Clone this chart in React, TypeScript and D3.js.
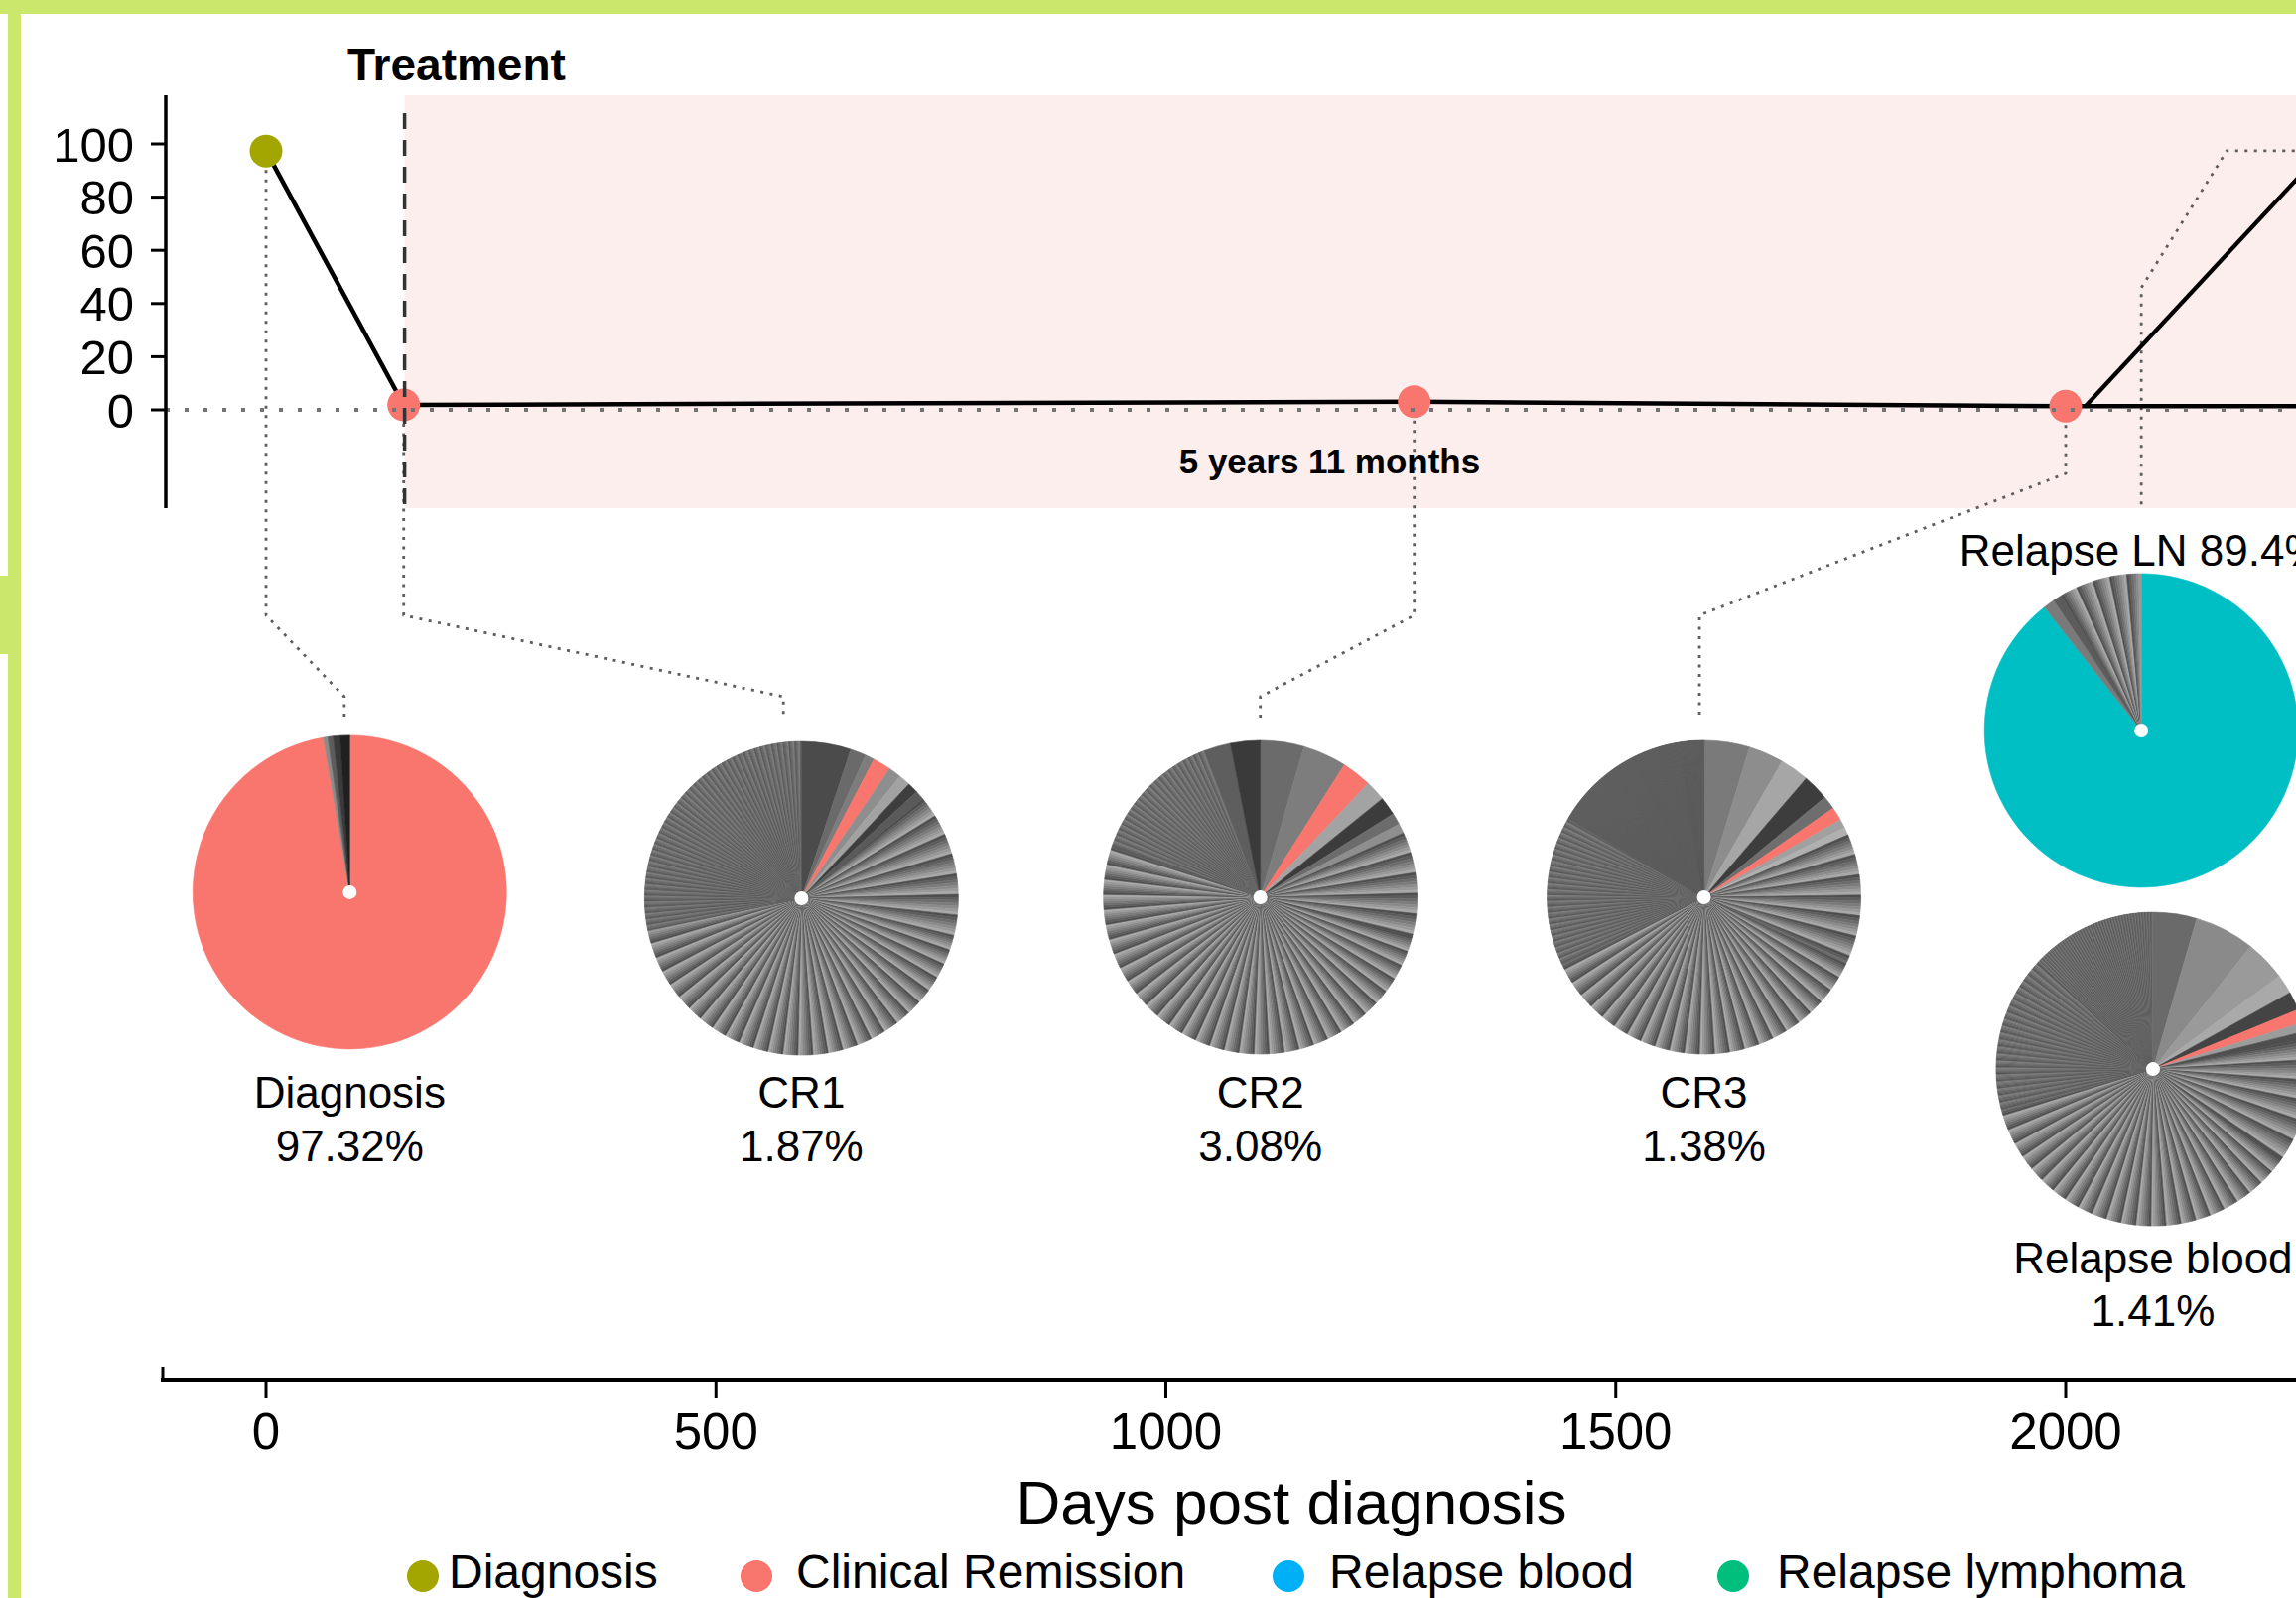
import React from "react";
import * as d3 from "d3";

const W = 2313;
const H = 1610;
const FONT = "'Liberation Sans', Arial, Helvetica, sans-serif";

// ---- Timeline samples (days post diagnosis, % of the tracked clone) ----
const sampleNames = ["Diagnosis", "CR1", "CR2", "CR3"];
const sampleDays = [0, 153, 1276, 2000];
const samplePct = [97.32, 1.87, 3.08, 1.38];
const sampleGroups = ["Diagnosis", "Clinical Remission", "Clinical Remission", "Clinical Remission"];

// Relapse: blood and lymph node sampled on the same day
const relapseDay = 2286;
const relapseOnsetDay = 2022;
const relapseOnsetPct = 1.4;
const relapseBloodPct = 1.41;
const relapseLNPct = 97.4;

// Treatment period
const treatmentStartDay = 154;
const treatmentEndDay = 2600;
const treatmentLabel = "5 years 11 months";

const yTicks = [0, 20, 40, 60, 80, 100];
const xTicks = [0, 500, 1000, 1500, 2000];

const legendLabels = ["Diagnosis", "Clinical Remission", "Relapse blood", "Relapse lymphoma"];
const legendColors = ["#a3a500", "#f8766d", "#00b0f6", "#00bf7d"];
const groupColor: Record<string, string> = {
  Diagnosis: "#a3a500",
  "Clinical Remission": "#f8766d",
};

// ---- Clonal composition of each sample: [number of clones, % per clone, colour key] ----
type Run = [number, number, string];
const diagnosisRuns: Run[] = [
  [1, 97.32, "clone"], [1, 0.45, "#8a8a8a"], [1, 0.55, "#5c5c5c"], [1, 0.7, "#3a3a3a"], [1, 0.98, "#202020"],
];
const cr1Runs: Run[] = [
  [1, 5.1, "#4b4b4b"], [1, 1.6, "#6a6a6a"], [1, 0.95, "#7d7d7d"], [1, 1.87, "clone"],
  [1, 1.3, "#8e8e8e"], [1, 1.2, "#a2a2a2"], [1, 1.1, "#3e3e3e"], [1, 0.98, "#5a5a5a"],
  [49, 0.3, "pleat"], [195, 0.22, "pleat"], [283, 0.1, "fine"],
];
const cr2Runs: Run[] = [
  [1, 4.5, "#6b6b6b"], [1, 4.5, "#7d7d7d"], [1, 3.08, "clone"], [1, 2.1, "#a3a3a3"],
  [1, 1.9, "#3c3c3c"], [1, 1.2, "#6c6c6c"], [1, 1.0, "#8e8e8e"],
  [36, 0.3, "pleat"], [233, 0.22, "pleat"], [138, 0.1, "fine"],
  [1, 2.8, "#5e5e5e"], [1, 3.06, "#3a3a3a"],
];
const cr3Runs: Run[] = [
  [1, 4.7, "#7a7a7a"], [1, 3.6, "#8d8d8d"], [1, 3.0, "#a6a6a6"], [1, 2.7, "#3d3d3d"],
  [1, 1.4, "#6e6e6e"], [1, 1.38, "clone"], [1, 0.9, "#a0a0a0"], [1, 0.8, "#b0b0b0"],
  [45, 0.3, "pleat"], [164, 0.22, "pleat"], [153, 0.1, "fine"], [416, 0.04, "flat"],
];
const relapseLNRuns: Run[] = [
  [1, 89.4, "clone"], [1, 1.2, "#7a7a7a"], [1, 0.9, "#5c5c5c"], [34, 0.25, "pleat"],
];
const relapseBloodRuns: Run[] = [
  [1, 4.5, "#6a6a6a"], [1, 6.2, "#8a8a8a"], [1, 4.2, "#9a9a9a"], [1, 2.0, "#a9a9a9"],
  [1, 1.9, "#444444"], [1, 1.41, "clone"], [1, 0.9, "#9c9c9c"], [1, 0.8, "#4e4e4e"],
  [43, 0.3, "pleat"], [164, 0.22, "pleat"], [133, 0.12, "fine"], [263, 0.05, "fine"],
];

const pieTitles = ["Diagnosis", "CR1", "CR2", "CR3", "Relapse LN", "Relapse blood"];
const pieClonePct = [97.32, 1.87, 3.08, 1.38, 89.4, 1.41];
const pieRuns = [diagnosisRuns, cr1Runs, cr2Runs, cr3Runs, relapseLNRuns, relapseBloodRuns];

// ---- Layout of the pies (x in days, y in the timeline's value units) ----
const pieLayout = [
  { day: 93, row: -181.3, clone: "#f8766d", labelMode: "below", nameY: 1116, pctY: 1170 },
  { day: 595, row: -183.6, clone: "#f8766d", labelMode: "below", nameY: 1116, pctY: 1170 },
  { day: 1105, row: -183.2, clone: "#f8766d", labelMode: "below", nameY: 1116, pctY: 1170 },
  { day: 1598, row: -183.2, clone: "#f8766d", labelMode: "below", nameY: 1116, pctY: 1170 },
  { day: 2084, row: -120.5, clone: "#00bfc4", labelMode: "above", nameY: 570, pctY: 570 },
  { day: 2097, row: -247.8, clone: "#f8766d", labelMode: "below", nameY: 1283, pctY: 1336 },
];

// Leader lines from the timeline points down to the pies
const connectors: [number, number][][] = [
  [[0, 97.32], [0, -77.2], [87, -107.8], [87, -115.7]],
  [[153, 1.87], [153, -77.2], [575, -107.8], [575, -115.7]],
  [[1276, 3.08], [1276, -77.2], [1105, -107.8], [1105, -115.7]],
  [[2000, 1.38], [2000, -23.9], [1593, -77.2], [1593, -115.7]],
  [[2286, 97.4], [2179, 97.4], [2084, 45.9], [2084, -37.7]],
];

const RAMPS: Record<string, string[]> = {
  pleat: ["#4e4e4e", "#5d5d5d", "#6c6c6c", "#7b7b7b", "#8a8a8a", "#999999", "#a8a8a8"],
  fine: ["#545454", "#5c5c5c", "#646464", "#6c6c6c", "#747474", "#7c7c7c"],
  flat: ["#5a5a5a", "#5e5e5e", "#626262"],
};

const GREEN = "#cce86c";
const PINK = "#fdeeee";
const R = 158;

type Slice = { pct: number; fill: string };

function expandRuns(runs: Run[], cloneColor: string): Slice[] {
  const out: Slice[] = [];
  runs.forEach(([n, pct, key]) => {
    for (let i = 0; i < n; i++) {
      let fill = key;
      if (key === "clone") fill = cloneColor;
      else if (RAMPS[key]) fill = RAMPS[key][i % RAMPS[key].length];
      out.push({ pct, fill });
    }
  });
  return out;
}

export default function App() {
  const x = d3.scaleLinear().domain([0, 2000]).range([268, 2081]);
  const y = d3.scaleLinear().domain([0, 100]).range([413, 145]);
  const line = d3
    .line<[number, number]>()
    .x((d) => x(d[0]))
    .y((d) => y(d[1]));

  const pie = d3.pie<Slice>().sort(null).value((d) => d.pct);
  const arc = d3.arc<d3.PieArcDatum<Slice>>().innerRadius(0).outerRadius(R);

  const trajectory: [number, number][] = sampleDays.map((d, i) => [d, samplePct[i]]);
  const bloodBranch: [number, number][] = [
    [sampleDays[3], samplePct[3]],
    [relapseDay, relapseBloodPct],
  ];
  const lnBranch: [number, number][] = [
    [relapseOnsetDay, relapseOnsetPct],
    [relapseDay, relapseLNPct],
  ];

  const panelTop = y(118.3);
  const panelBottom = y(-36.9);
  const yAxisX = 167;
  const xAxisY = 1390;

  return (
    <svg
      width={W}
      height={H}
      style={{ position: "absolute", left: 0, top: 0, display: "block" }}
      fontFamily={FONT}
    >
      <rect width={W} height={H} fill="#ffffff" />

      {/* treatment period */}
      <rect
        x={x(treatmentStartDay)}
        y={panelTop}
        width={x(treatmentEndDay) - x(treatmentStartDay)}
        height={panelBottom - panelTop}
        fill={PINK}
      />

      {/* leader lines */}
      {connectors.map((c, i) => (
        <path
          key={"c" + i}
          d={line(c) || ""}
          fill="none"
          stroke="#5e5e5e"
          strokeWidth={2.8}
          strokeDasharray="3 6.5"
        />
      ))}

      {/* clone trajectory */}
      <path d={line(trajectory) || ""} fill="none" stroke="#000" strokeWidth={4.5} strokeLinejoin="round" />
      <path d={line(bloodBranch) || ""} fill="none" stroke="#000" strokeWidth={4.5} />
      <path d={line(lnBranch) || ""} fill="none" stroke="#000" strokeWidth={4.2} />

      {sampleDays.map((d, i) => (
        <circle key={"p" + i} cx={x(d)} cy={y(samplePct[i])} r={16.5} fill={groupColor[sampleGroups[i]]} />
      ))}

      {/* start of treatment */}
      <line
        x1={x(treatmentStartDay)}
        x2={x(treatmentStartDay)}
        y1={114}
        y2={panelBottom}
        stroke="#333"
        strokeWidth={3.5}
        strokeDasharray="16 11"
      />

      {/* zero reference */}
      <line x1={yAxisX} x2={W} y1={y(0)} y2={y(0)} stroke="#737373" strokeWidth={4} strokeDasharray="4 15" />

      {/* y axis */}
      <line x1={yAxisX} x2={yAxisX} y1={panelTop} y2={panelBottom} stroke="#000" strokeWidth={3.5} />
      {yTicks.map((t) => (
        <g key={"yt" + t}>
          <line x1={152} x2={yAxisX} y1={y(t)} y2={y(t)} stroke="#000" strokeWidth={3} />
          <text x={135} y={y(t)} dy="0.36em" textAnchor="end" fontSize={49} fill="#000">
            {t}
          </text>
        </g>
      ))}

      <text x={350} y={81} fontSize={46} fontWeight="bold" fill="#000">
        Treatment
      </text>
      <text x={x(1182)} y={y(-23.9)} fontSize={35} fontWeight="bold" textAnchor="middle" fill="#000">
        {treatmentLabel}
      </text>

      {/* clonal composition pies */}
      {pieRuns.map((runs, i) => {
        const L = pieLayout[i];
        const cx = x(L.day);
        const cy = y(L.row);
        const arcs = pie(expandRuns(runs, L.clone));
        return (
          <g key={"pie" + i}>
            <g transform={`translate(${cx},${cy})`}>
              {arcs.map((a, j) => (
                <path key={j} d={arc(a) || ""} fill={a.data.fill} stroke={a.data.fill} strokeWidth={0.6} />
              ))}
              <circle r={7} fill="#fff" />
            </g>
            {L.labelMode === "above" ? (
              <text x={cx} y={L.nameY} textAnchor="middle" fontSize={44} fill="#000">
                {`${pieTitles[i]} ${pieClonePct[i]}%`}
              </text>
            ) : (
              <g>
                <text x={cx} y={L.nameY} textAnchor="middle" fontSize={44} fill="#000">
                  {pieTitles[i]}
                </text>
                <text x={cx} y={L.pctY} textAnchor="middle" fontSize={44} fill="#000">
                  {`${pieClonePct[i]}%`}
                </text>
              </g>
            )}
          </g>
        );
      })}

      {/* x axis */}
      <line x1={164} x2={164} y1={1377} y2={xAxisY + 2} stroke="#000" strokeWidth={3} />
      <line x1={162} x2={W} y1={xAxisY} y2={xAxisY} stroke="#000" strokeWidth={4} />
      {xTicks.map((t) => (
        <g key={"xt" + t}>
          <line x1={x(t)} x2={x(t)} y1={xAxisY} y2={xAxisY + 18} stroke="#000" strokeWidth={3} />
          <text x={x(t)} y={1460} textAnchor="middle" fontSize={51} fill="#000">
            {t}
          </text>
        </g>
      ))}
      <text x={1301} y={1535} textAnchor="middle" fontSize={62} fill="#000">
        Days post diagnosis
      </text>

      {/* legend */}
      {legendLabels.map((lab, i) => {
        const dotX = [426, 762, 1298, 1746][i];
        const textX = [452, 802, 1339, 1790][i];
        return (
          <g key={"lg" + i}>
            <circle cx={dotX} cy={1588} r={16} fill={legendColors[i]} />
            <text x={textX} y={1600} fontSize={48} fill="#000">
              {lab}
            </text>
          </g>
        );
      })}

      {/* frame */}
      <rect x={0} y={0} width={W} height={14} fill={GREEN} />
      <rect x={8} y={0} width={13} height={H} fill={GREEN} />
      <rect x={0} y={580} width={21} height={79} fill={GREEN} />
    </svg>
  );
}
